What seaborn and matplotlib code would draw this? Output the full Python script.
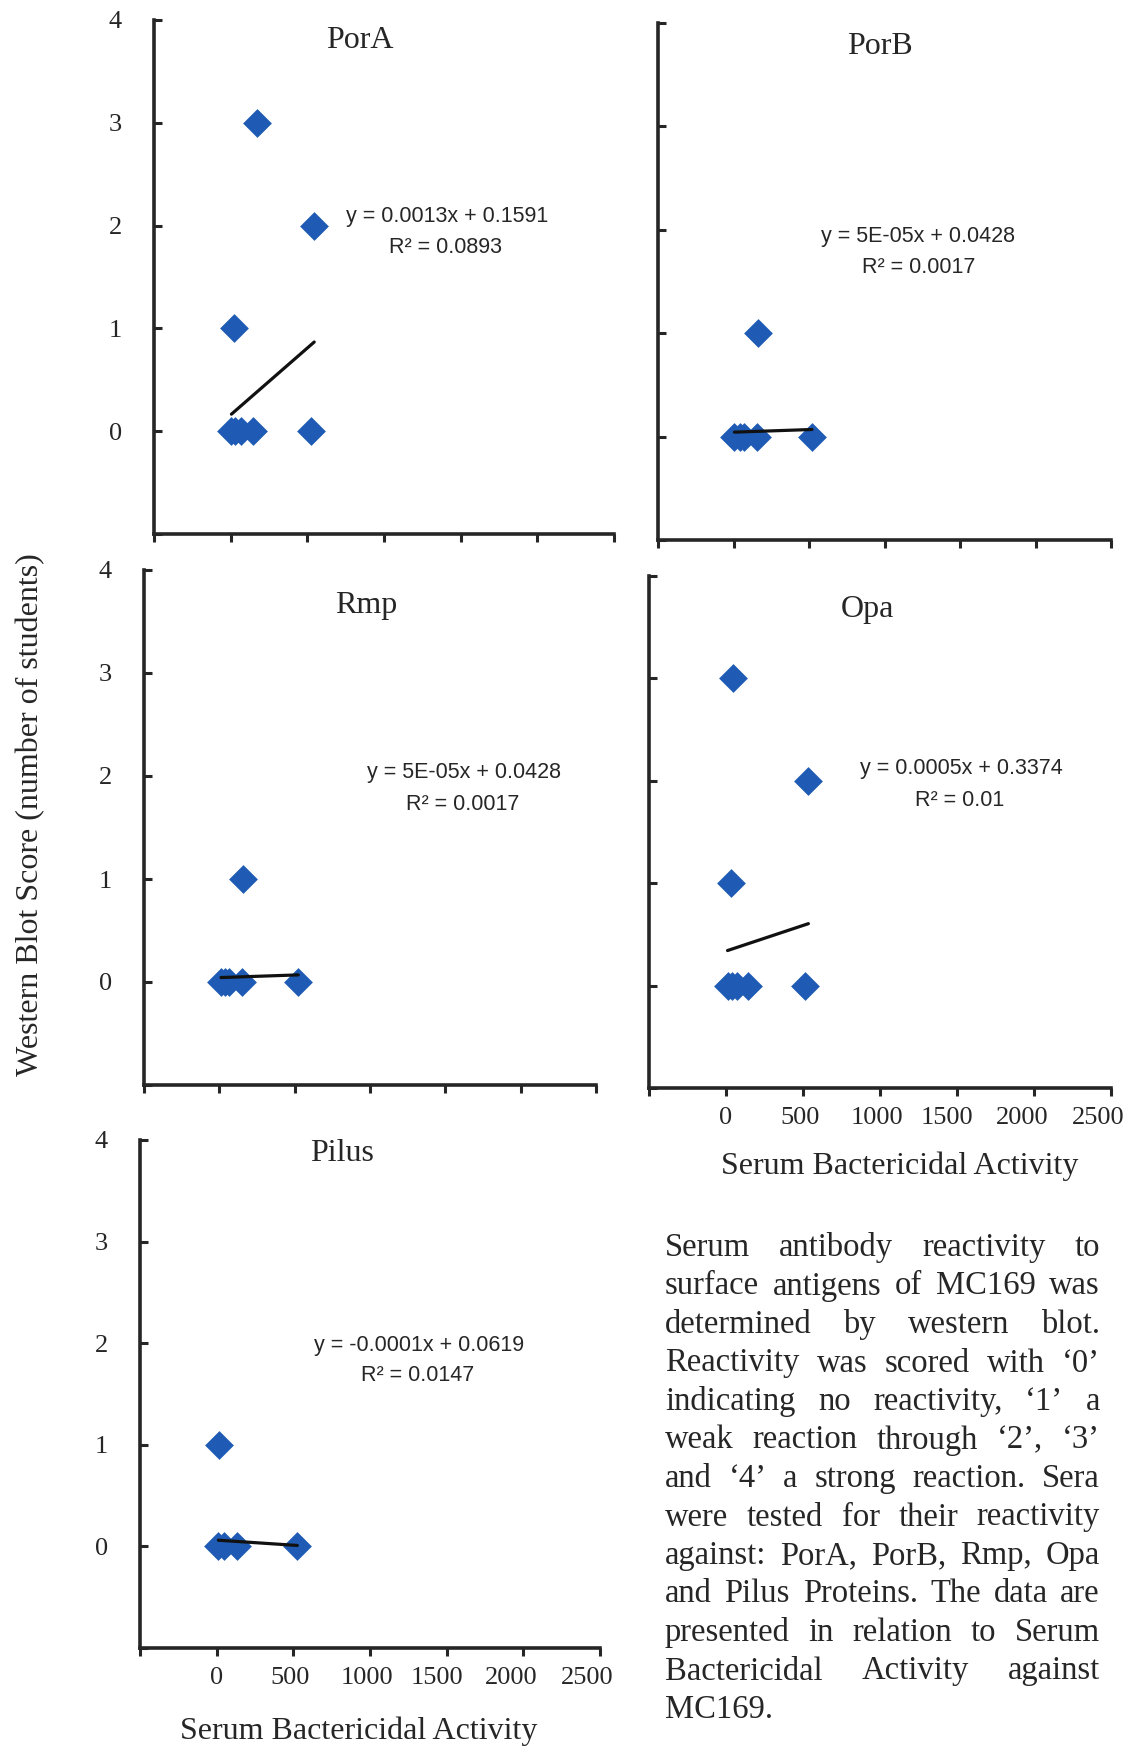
import matplotlib
matplotlib.use("Agg")
import matplotlib.pyplot as plt
from matplotlib.transforms import ScaledTranslation
import pandas as pd
import seaborn as sns

# Serum bactericidal activity (x) against western blot score (y), per antigen
pora_sba = [5, 30, 68, 146, 523, 23, 545, 174]
pora_score = [0, 0, 0, 0, 0, 1, 2, 3]
porb_sba = [6, 40, 67, 157, 520, 163]
porb_score = [0, 0, 0, 0, 0, 1]
rmp_sba = [11, 40, 65, 151, 524, 157]
rmp_score = [0, 0, 0, 0, 0, 1]
opa_sba = [10, 40, 71, 143, 516, 31, 535, 47]
opa_score = [0, 0, 0, 0, 0, 1, 2, 3]
pilus_sba = [11, 50, 130, 526, 17]
pilus_score = [0, 0, 0, 0, 1]

# Linear trendlines: slope, intercept, R squared
pora_fit = (0.0013, 0.1591, 0.0893)
porb_fit = (5e-05, 0.0428, 0.0017)
rmp_fit = (5e-05, 0.0428, 0.0017)
opa_fit = (0.0005, 0.3374, 0.01)
pilus_fit = (-0.0001, 0.0619, 0.0147)

antigens = ["PorA", "PorB", "Rmp", "Opa", "Pilus"]
x_ticks = [-500, 0, 500, 1000, 1500, 2000, 2500]
y_ticks = [-1, 0, 1, 2, 3, 4]

caption_lines = [
    "Serum antibody reactivity to",
    "surface antigens of MC169 was",
    "determined by western blot.",
    "Reactivity was scored with  \u20180\u2019",
    "indicating no reactivity, \u20181\u2019 a",
    "weak reaction through \u20182\u2019, \u20183\u2019",
    "and \u20184\u2019 a strong reaction. Sera",
    "were tested for their reactivity",
    "against: PorA, PorB, Rmp, Opa",
    "and Pilus Proteins. The data are",
    "presented in relation to Serum",
    "Bactericidal Activity against",
    "MC169.",
]

sns.set_theme(style="white")
SERIF = ["Liberation Serif", "DejaVu Serif"]
SANS = ["Liberation Sans", "DejaVu Sans"]
plt.rcParams["font.family"] = SERIF

W, H = 1129, 1747
fig = plt.figure(figsize=(W / 100, H / 100), dpi=100)
fig.patch.set_facecolor("white")

BLUE = "#1f5bb5"
AXIS = "#262626"
# horizontal nudges (pixels) of the x tick labels, packed slightly leftwards
XLABEL_NUDGE = [0, 0, -3, -3, -10, -12, -13]


def fmt_slope(m):
    return f"{m:.0E}" if abs(m) < 1e-4 else f"{m:.4f}"


def fmt_r2(r):
    return f"{r:.4f}".rstrip("0")


def add_panel(box, name, xs, ys, fit, title_xy, eq_xy, r2_xy,
              ylabels=True, xlabels=False, xlabel_xy=None):
    left, right, top, bottom = box
    ax = fig.add_axes([left / W, 1 - bottom / H, (right - left) / W, (bottom - top) / H])
    ax.set_facecolor("white")
    df = pd.DataFrame({"sba": xs, "score": ys})

    sns.scatterplot(data=df, x="sba", y="score", ax=ax, marker="D", s=215,
                    color=BLUE, linewidth=0, zorder=3, legend=False)

    slope, intercept, r2 = fit
    x0, x1 = min(xs), max(xs)
    line = pd.DataFrame({"sba": [x0, x1],
                         "score": [slope * x0 + intercept, slope * x1 + intercept]})
    sns.lineplot(data=line, x="sba", y="score", ax=ax, color="#111111",
                 linewidth=2.3, zorder=4, legend=False)

    ax.set_xlim(-500, 2500)
    ax.set_ylim(-1, 4)
    for side in ("top", "right"):
        ax.spines[side].set_visible(False)
    for side in ("left", "bottom"):
        ax.spines[side].set_color(AXIS)
        ax.spines[side].set_linewidth(2.6)

    ax.set_xticks(x_ticks)
    ax.set_yticks(y_ticks)
    if xlabels:
        ax.set_xticklabels([""] + [str(v) for v in x_ticks[1:]])
    else:
        ax.set_xticklabels([])
    if ylabels:
        ax.set_yticklabels([""] + [str(v) for v in y_ticks[1:]])
    else:
        ax.set_yticklabels([])
    ax.tick_params(axis="x", direction="out", length=6, width=2.2, color=AXIS,
                   pad=8, labelsize=19, bottom=True)
    ax.tick_params(axis="y", direction="in", length=6, width=2.2, color=AXIS,
                   pad=23, labelsize=19, left=True)
    for lab in ax.get_xticklabels() + ax.get_yticklabels():
        lab.set_family(SERIF)
    if xlabels:
        for lab, dx in zip(ax.get_xticklabels(), XLABEL_NUDGE):
            lab.set_transform(lab.get_transform()
                              + ScaledTranslation(dx / 100, 0, fig.dpi_scale_trans))

    ax.set_xlabel("")
    ax.set_ylabel("")
    if xlabel_xy is not None:
        ax.set_xlabel("Serum Bactericidal Activity", fontsize=23, family=SERIF)
        ax.xaxis.set_label_coords(*xlabel_xy)
        ax.xaxis.label.set_va("center")

    ax.text(*title_xy, name, fontsize=23, family=SERIF, ha="center", va="center")
    ax.text(*eq_xy, f"y = {fmt_slope(slope)}x + {intercept:.4f}",
            fontsize=15.5, family=SANS, ha="center", va="center")
    ax.text(*r2_xy, f"R\u00b2 = {fmt_r2(r2)}",
            fontsize=15.5, family=SANS, ha="center", va="center")
    return ax


add_panel((154, 614, 20, 534), antigens[0], pora_sba, pora_score, pora_fit,
          (843, 3.80), (1411, 2.09), (1404, 1.79))
add_panel((658, 1111, 23, 540), antigens[1], porb_sba, porb_score, porb_fit,
          (970, 3.77), (1222, 1.94), (1228, 1.64), ylabels=False)
add_panel((144, 596, 570, 1085), antigens[2], rmp_sba, rmp_score, rmp_fit,
          (973, 3.66), (1624, 2.03), (1617, 1.72))
add_panel((649, 1111, 576, 1088), antigens[3], opa_sba, opa_score, opa_fit,
          (916, 3.67), (1526, 2.12), (1519, 1.81), ylabels=False,
          xlabels=True, xlabel_xy=(0.543, -0.152))
add_panel((140, 600, 1140, 1648), antigens[4], pilus_sba, pilus_score, pilus_fit,
          (817, 3.87), (1320, 1.98), (1313, 1.68),
          xlabels=True, xlabel_xy=(0.476, -0.163))

fig.text(31 / W, 1 - 815 / H, "Western Blot Score (number of students)",
         rotation=90, fontsize=23, family=SERIF, ha="center", va="center")

# Fully justified caption block
renderer = fig.canvas.get_renderer()
CAP_SIZE = 23.5
cap_left, cap_right = 665, 1100
cap_base0, cap_step = 1256, 38.5


def word_width(word):
    t = fig.text(0, 0, word, fontsize=CAP_SIZE, family=SERIF)
    w = t.get_window_extent(renderer).width
    t.remove()
    return w


for i, line in enumerate(caption_lines):
    y = 1 - (cap_base0 + i * cap_step) / H
    words = line.split()
    if i == len(caption_lines) - 1 or len(words) == 1:
        fig.text(cap_left / W, y, line, fontsize=CAP_SIZE, family=SERIF,
                 ha="left", va="baseline")
        continue
    widths = [word_width(w) for w in words]
    gap = (cap_right - cap_left - sum(widths)) / (len(words) - 1)
    x = cap_left
    for w, wd in zip(words, widths):
        fig.text(x / W, y, w, fontsize=CAP_SIZE, family=SERIF,
                 ha="left", va="baseline")
        x += wd + gap

fig.savefig("out.png", dpi=100, facecolor="white")
